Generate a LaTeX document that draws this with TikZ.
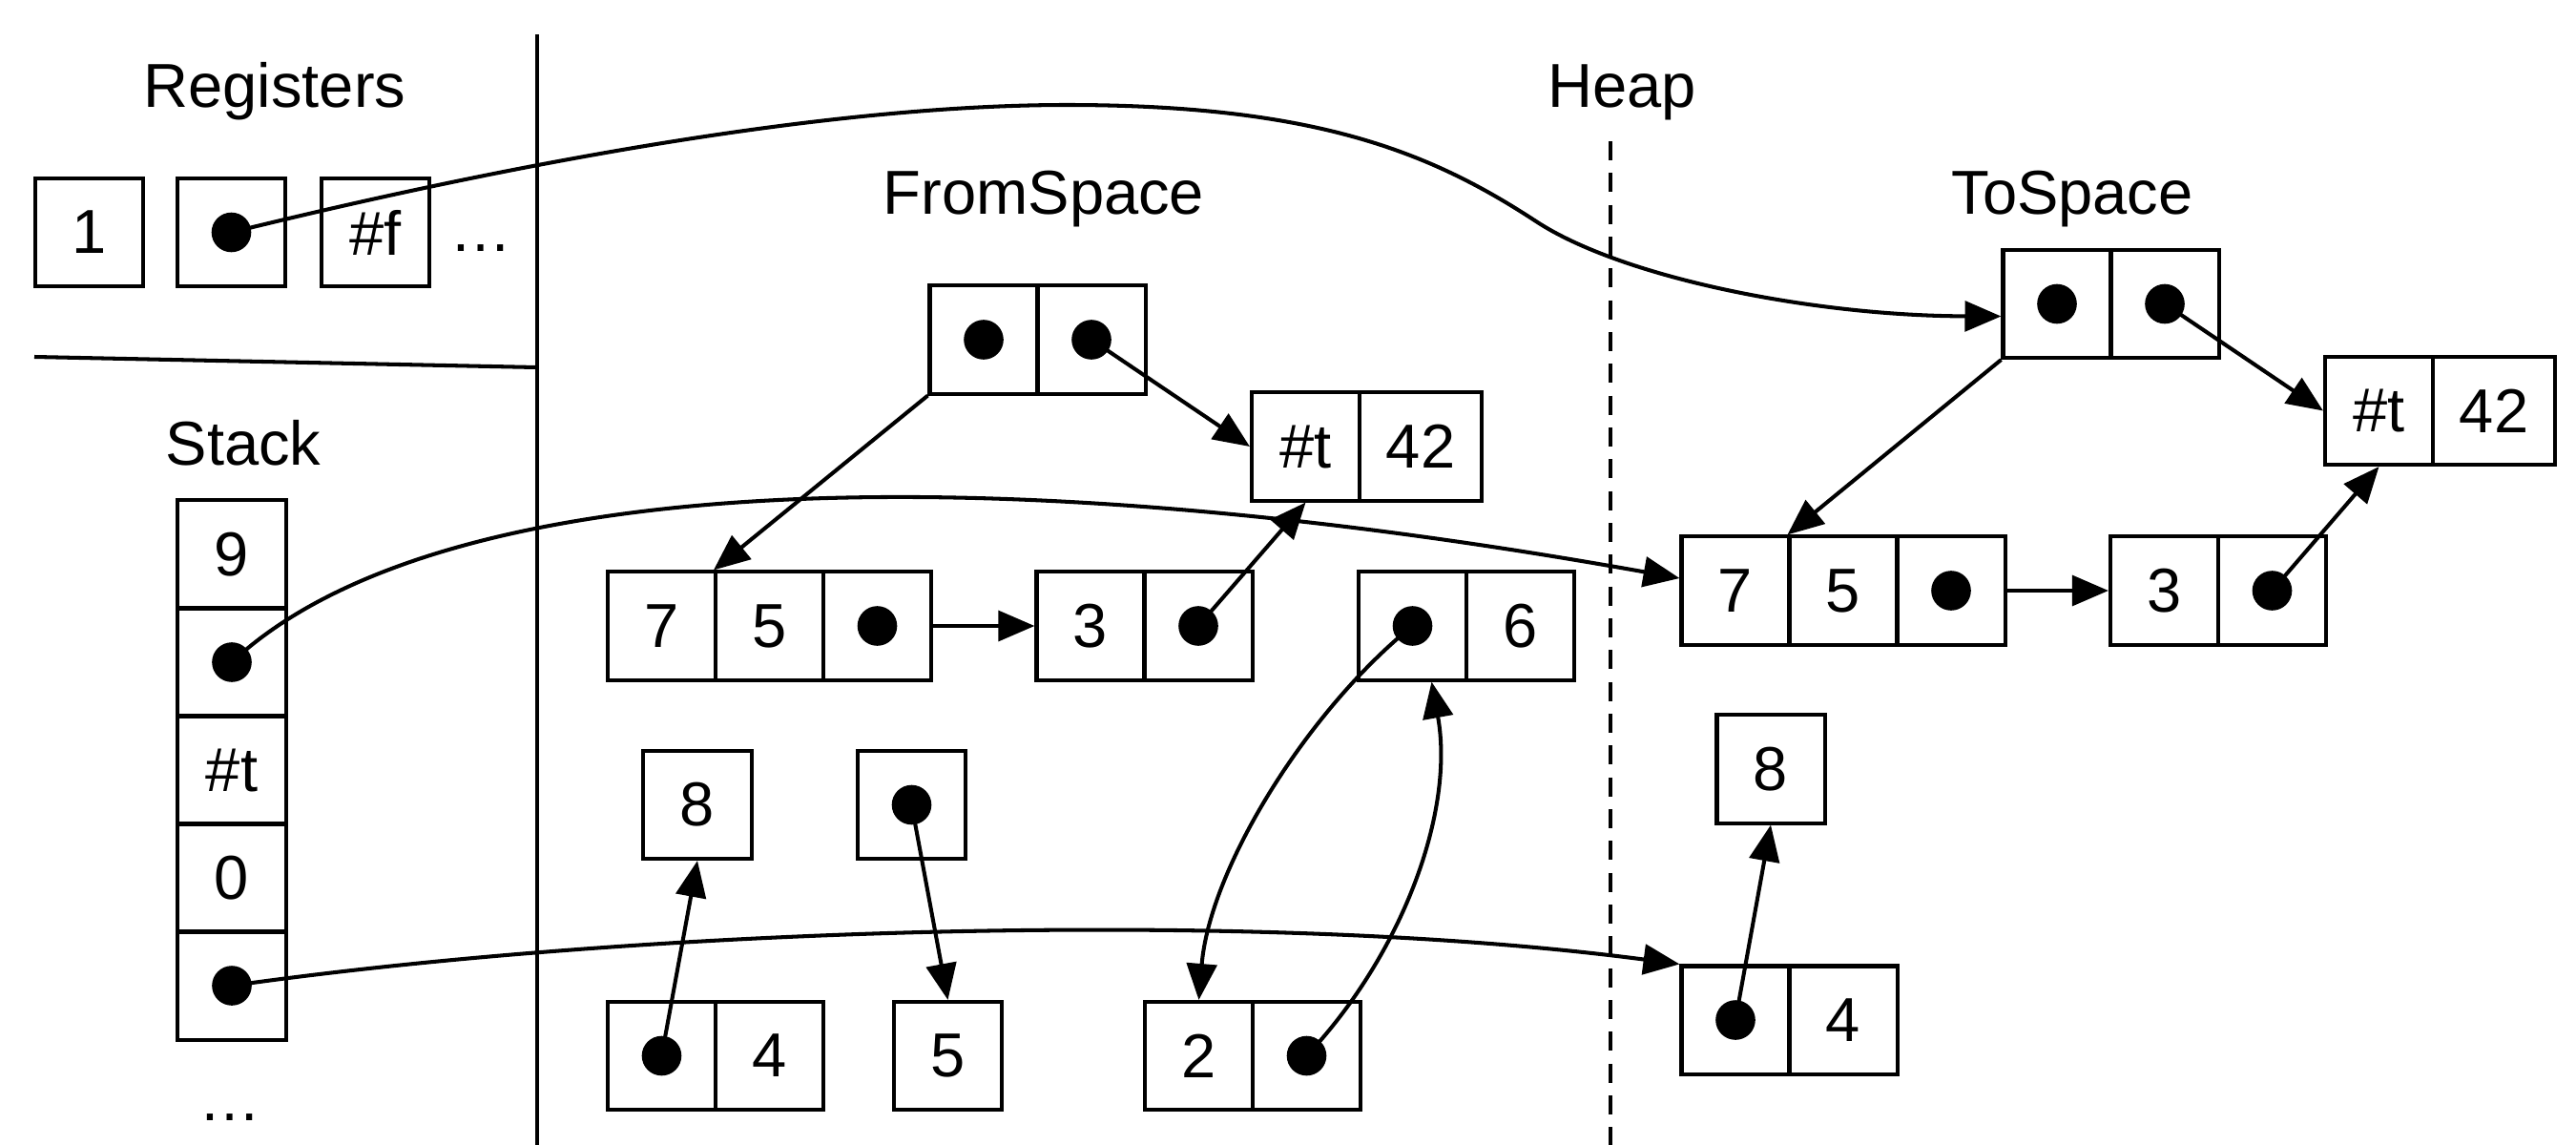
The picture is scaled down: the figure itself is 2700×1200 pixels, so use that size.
\documentclass[tikz,border=0pt]{standalone}
\usepackage{fontspec}
\setmainfont{Liberation Sans}
\usetikzlibrary{arrows.meta,calc}
\begin{document}
\begin{tikzpicture}[x=0.01cm,y=-0.01cm,
  cell/.style={draw,line width=1.15pt,minimum width=1.13cm,minimum height=1.13cm,inner sep=0pt,font=\fontsize{18.5}{22}\selectfont},
  wcell/.style={cell,minimum width=1.28cm},
  dot/.style={circle,fill,inner sep=0pt,minimum size=0.416cm},
  lbl/.style={anchor=base,inner sep=0pt,font=\fontsize{18.5}{22}\selectfont},
  ptr/.style={line width=1.15pt,-{Triangle[length=10.8pt,width=9pt]}},
  divider/.style={line width=1.15pt}]
\useasboundingbox (0,0) rectangle (2700,1200);

% dividers
\coordinate (vtop) at (562.6,36);
\coordinate (vbot) at (562.6,1200);
\coordinate (hl) at (36,374);
\coordinate (hr) at (562.6,385);
\coordinate (dtop) at (1687.5,148);
\coordinate (dbot) at (1687.5,1200);
\draw[divider] (vtop) -- (vbot);
\draw[divider] (hl) -- (hr);
\draw[divider,dash pattern=on 5.69pt off 3.79pt] (dtop) -- (dbot);

% labels
\node[lbl] (lreg) at (288,112) {Registers};
\node[lbl] (lstack) at (255,487) {Stack};
\node[lbl] (lheap) at (1700,112) {Heap};
\node[lbl] (lfrom) at (1094,224) {FromSpace};
\node[lbl] (lto) at (2172,224) {ToSpace};
\node[lbl] (lrdots) at (504.5,263) {…};
\node[lbl] (lsdots) at (241.5,1174) {…};

% registers
\node[cell] (r1) at (93.5,243.5) {1};
\node[cell] (r2) at (242.5,243.5) {};
\node[cell] (r3) at (393.5,243.5) {\#f};
\node[dot] (rd) at (r2.center) {};

% stack
\node[cell] (s1) at (243,581) {9};
\node[cell] (s2) at (243,694) {};
\node[cell] (s3) at (243,807) {\#t};
\node[cell] (s4) at (243,920) {0};
\node[cell] (s5) at (243,1033) {};
\node[dot] (sd2) at (s2.center) {};
\node[dot] (sd5) at (s5.center) {};

% FromSpace
\node[cell] (fa1) at (1031,356) {};
\node[cell] (fa2) at (1144,356) {};
\node[dot] (da1) at (fa1.center) {};
\node[dot] (da2) at (fa2.center) {};
\node[cell] (fb1) at (1368.5,468) {\#t};
\node[wcell] (fb2) at (1489,468) {42};
\node[cell] (fc1) at (693.5,656) {7};
\node[cell] (fc2) at (806.5,656) {5};
\node[cell] (fc3) at (919.5,656) {};
\node[dot] (dc3) at (fc3.center) {};
\node[cell] (fd1) at (1143,656) {3};
\node[cell] (fd2) at (1256,656) {};
\node[dot] (dd2) at (fd2.center) {};
\node[cell] (fe1) at (1480.5,656) {};
\node[cell] (fe2) at (1593.5,656) {6};
\node[dot] (de1) at (fe1.center) {};
\node[cell] (ff) at (731,843.5) {8};
\node[cell] (fg) at (955.5,843.5) {};
\node[dot] (dg) at (fg.center) {};
\node[cell] (fh1) at (693.5,1106.5) {};
\node[cell] (fh2) at (806.5,1106.5) {4};
\node[dot] (dh1) at (fh1.center) {};
\node[cell] (fi) at (993.5,1106.5) {5};
\node[cell] (fj1) at (1256.5,1106.5) {2};
\node[cell] (fj2) at (1369.5,1106.5) {};
\node[dot] (dj2) at (fj2.center) {};

% ToSpace
\node[cell] (ta1) at (2156,318.5) {};
\node[cell] (ta2) at (2269,318.5) {};
\node[dot] (ea1) at (ta1.center) {};
\node[dot] (ea2) at (ta2.center) {};
\node[cell] (tb1) at (2493.5,430.5) {\#t};
\node[wcell] (tb2) at (2614,430.5) {42};
\node[cell] (tc1) at (1819,619) {7};
\node[cell] (tc2) at (1932,619) {5};
\node[cell] (tc3) at (2045,619) {};
\node[dot] (ec3) at (tc3.center) {};
\node[cell] (td1) at (2268.5,619) {3};
\node[cell] (td2) at (2381.5,619) {};
\node[dot] (ed2) at (td2.center) {};
\node[cell] (tf) at (1856,806) {8};
\node[cell] (th1) at (1819,1069) {};
\node[cell] (th2) at (1932,1069) {4};
\node[dot] (eh1) at (th1.center) {};

% target coordinates
\coordinate (taIn) at ($(ta1.west)+(0,13)$);
\coordinate (tcIn) at ($(tc1.west)+(0,-13)$);
\coordinate (feIn) at ($(fe1.south)+(20,0)$);

% long pointers
\draw[ptr] (rd.center) .. controls (500,180) and (850,110) .. (1118,110)
  .. controls (1380,110) and (1500,160) .. (1610,232)
  .. controls (1700,291) and (1900,331) .. (taIn);
\draw[ptr] (sd2.center) .. controls (450,500) and (1000,470) .. (tcIn);
\draw[ptr] (sd5.center) .. controls (650,975) and (1300,950) .. (th1.north west);

% FromSpace pointers
\draw[ptr] (da2.center) -- (fb1.west);
\draw[ptr] (fa1.south west) -- (fc2.north west);
\draw[ptr] (fc3.east) -- (fd1.west);
\draw[ptr] (dd2.center) -- (fb1.south);
\draw[ptr] (dg.center) -- (fi.north);
\draw[ptr] (dh1.center) -- (ff.south);
\draw[ptr] (de1.center) .. controls (1370,745) and (1268,910) .. (fj1.north);
\draw[ptr] (dj2.center) .. controls (1470,1000) and (1525,850) .. (feIn);

% ToSpace pointers
\draw[ptr] (ea2.center) -- (tb1.west);
\draw[ptr] (ta1.south west) -- (tc2.north west);
\draw[ptr] (tc3.east) -- (td1.west);
\draw[ptr] (ed2.center) -- (tb1.south);
\draw[ptr] (eh1.center) -- (tf.south);
\end{tikzpicture}
\end{document}
